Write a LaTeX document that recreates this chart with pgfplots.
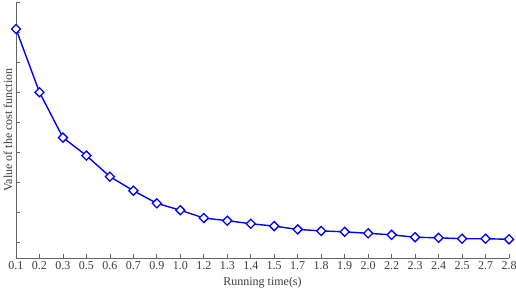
\documentclass[border=0pt]{standalone}
\usepackage{pgfplots}
\pgfplotsset{compat=1.18}
\usepackage{fontspec}
\setmainfont{Liberation Serif}
\definecolor{axgray}{RGB}{100,100,100}
\definecolor{txtgray}{RGB}{60,60,60}
\pgfplotstableread{
x y
0 7.10
1 4.99
2 3.48
3 2.88
4 2.18
5 1.71
6 1.29
7 1.06
8 0.80
9 0.71
10 0.61
11 0.53
12 0.42
13 0.37
14 0.34
15 0.29
16 0.24
17 0.16
18 0.14
19 0.11
20 0.11
21 0.09
}\datatable
\begin{document}
\begin{tikzpicture}
\begin{axis}[
  at={(16pt,32pt)}, anchor=south west,
  scale only axis, width=493pt, height=256pt,
  xmin=0, xmax=21, ymin=-0.533, ymax=8,
  axis x line*=bottom, axis y line*=left,
  axis line style={axgray, line width=0.8pt},
  xtick=data,
  xticklabels={0.1,0.2,0.3,0.5,0.6,0.7,0.9,1.0,1.2,1.3,1.4,1.5,1.7,1.8,1.9,2.0,2.2,2.3,2.4,2.5,2.7,2.8},
  ytick={0,1,2,3,4,5,6,7,8},
  yticklabels={},
  tick align=inside,
  major tick length=4pt,
  tick style={axgray, line width=0.8pt},
  /pgf/number format/assume math mode=true,
  ticklabel style={font=\fontsize{12}{14}\selectfont, text=txtgray},
  xlabel={Running time(s)},
  ylabel={Value of the cost function},
  label style={font=\fontsize{12}{14}\selectfont, text=txtgray},
  xlabel style={at={(axis description cs:0.5,0)}, anchor=center, yshift=-25pt},
  ylabel style={at={(axis description cs:0,0.5)}, anchor=center, yshift=8pt},
  clip=false,
]
\addplot[blue, line width=1.4pt, mark=square*, mark size=3.2pt, mark options={fill=white, line width=1.3pt, rotate=45}] table[x=x,y=y]{\datatable};
\end{axis}
\pgfresetboundingbox
\path[use as bounding box] (0,0) rectangle (516pt,290pt);
\end{tikzpicture}
\end{document}
